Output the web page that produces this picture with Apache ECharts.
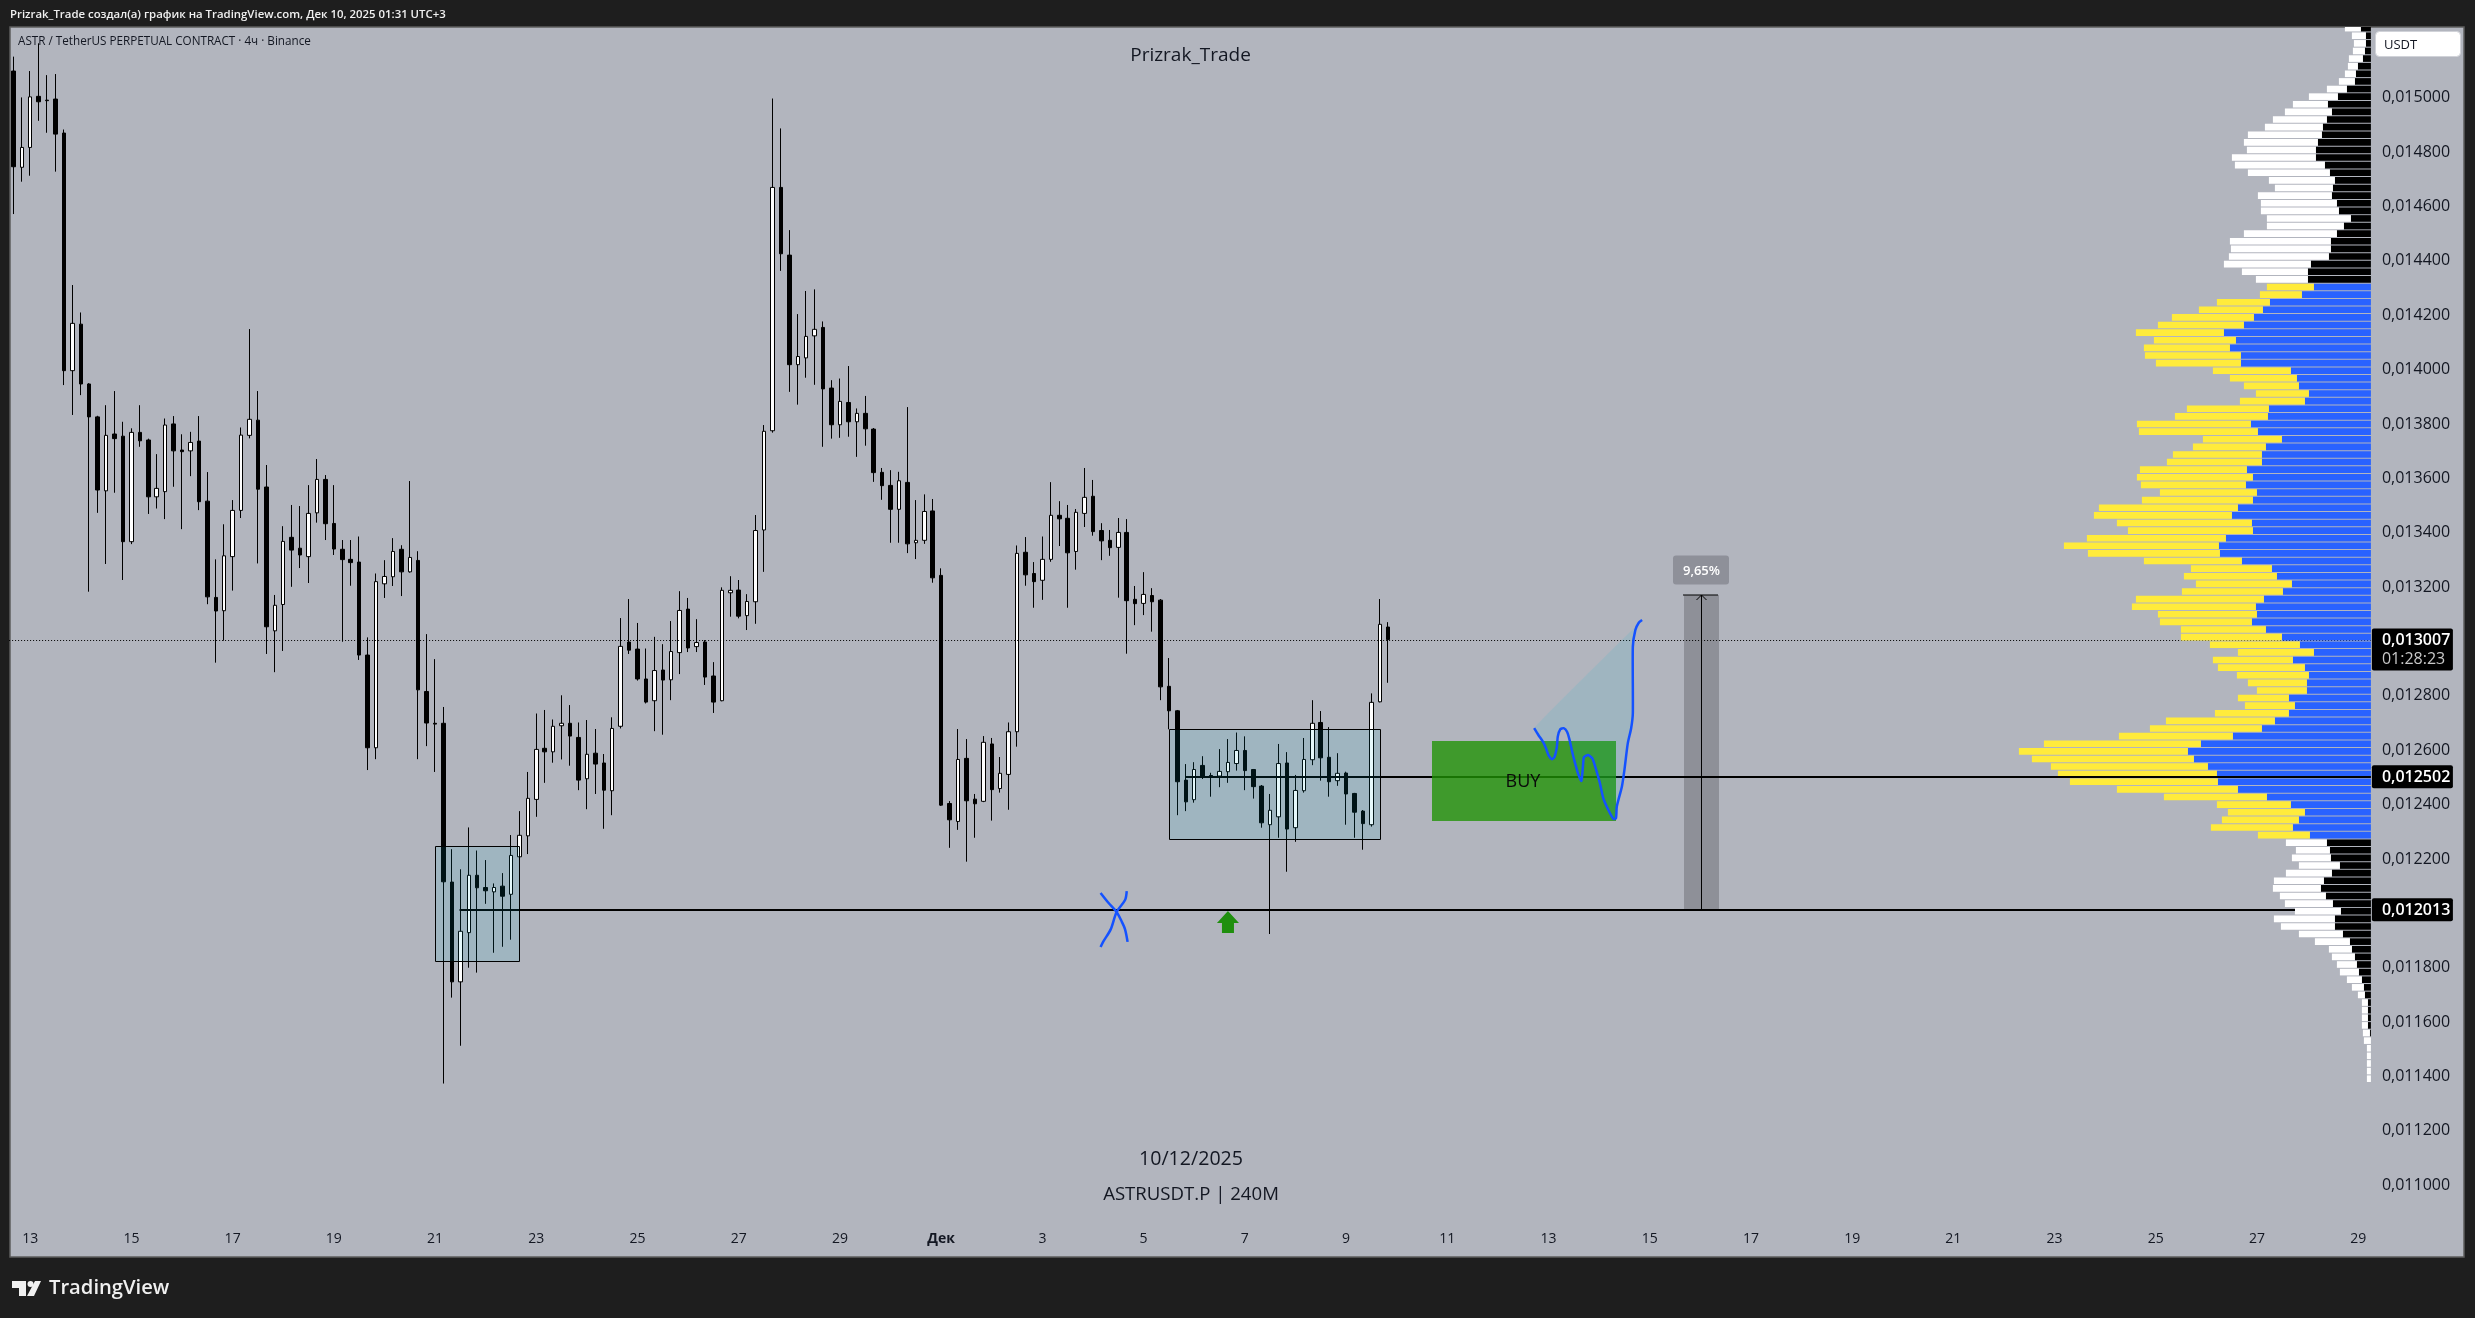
<!DOCTYPE html>
<html>
<head>
<meta charset="utf-8">
<title>ASTRUSDT.P</title>
<script src="https://cdn.jsdelivr.net/npm/echarts@6/dist/echarts.min.js"></script>
<style>
  html, body { margin: 0; padding: 0; background: #1e1e1e; }
  #main { width: 2475px; height: 1318px; }
</style>
</head>
<body>
<div id="main"></div>
<script>
// prices are in millionths of USDT, 13007 means 0,013007
var opens = [
  15098,14744,14817,15005,14991,14995,14870,13996,14167,13947,
  13826,13554,13763,13755,13367,13769,13741,13532,13551,13800,
  13704,13701,13737,13516,13162,13113,13312,13482,13758,13814,
  13568,13039,13136,13383,13343,13312,13473,13596,13434,13339,
  13302,13292,12950,12609,13212,13238,13339,13256,13298,12816,
  12699,12699,12115,11748,11929,12140,12095,12079,12100,12070,
  12208,12285,12419,12607,12594,12690,12699,12647,12495,12589,
  12553,12451,12688,12998,12972,12862,12782,12895,12859,12959,
  13119,12981,12998,12873,12782,13179,13189,13095,13146,13410,
  13775,14670,14421,14018,14043,14124,14155,13932,13797,13879,
  13808,13839,13781,13622,13574,13486,13585,13363,13372,13480,
  13243,12404,12338,12570,12420,12412,12623,12459,12511,12668,
  13328,13250,13225,13302,13464,13453,13331,13471,13534,13408,
  13372,13346,13401,13155,13140,13169,13152,12835,12745,12490,
  12418,12544,12507,12505,12521,12551,12599,12529,12468,12326,
  12355,12553,12315,12451,12565,12702,12574,12488,12516,12441,
  12376,12326,12778,13053
];
var closes = [
  14746,14817,15003,14985,14989,14866,13996,14170,13947,13826,
  13557,13758,13746,13367,13769,13738,13532,13563,13796,13701,
  13698,13732,13514,13164,13112,13315,13482,13759,13817,13560,
  13054,13133,13368,13336,13318,13471,13596,13433,13340,13301,
  13290,12950,12609,13220,13239,13331,13256,13309,12822,12700,
  12696,12116,11748,11934,12140,12094,12083,12095,12063,12213,
  12287,12423,12603,12594,12688,12699,12652,12490,12585,12549,
  12453,12680,12982,12968,12862,12777,12893,12858,12963,13114,
  12976,12996,12869,12777,13188,13188,13093,13147,13408,13773,
  14670,14426,14018,14048,14122,14148,13929,13797,13883,13808,
  13839,13782,13621,13573,13486,13591,13359,13372,13478,13234,
  12398,12344,12566,12414,12403,12629,12455,12515,12668,13324,
  13245,13220,13302,13464,13451,13326,13475,13530,13404,13370,
  13345,13401,13150,13139,13173,13146,12833,12745,12484,12410,
  12529,12502,12504,12522,12555,12599,12525,12466,12333,12379,
  12551,12310,12452,12566,12699,12572,12484,12515,12439,12372,
  12330,12776,13063,13007
];
var lows = [
  14572,14691,14713,14915,14871,14728,13943,13833,13906,13183,
  13473,13285,13547,13226,13358,13716,13469,13489,13450,13569,
  13413,13608,13483,13137,12922,13003,13187,13454,13747,13287,
  12954,12887,12965,13201,13270,13215,13437,13373,13318,12999,
  13205,12932,12527,12567,13160,13204,13167,13253,12567,12615,
  12520,11374,11690,11513,11800,11782,12035,11855,11877,11903,
  12205,12218,12355,12480,12554,12566,12543,12453,12383,12439,
  12311,12361,12680,12954,12856,12772,12670,12657,12784,12880,
  12961,12961,12840,12737,12780,13091,13085,13042,13065,13256,
  13768,14363,13918,13871,13970,13944,13716,13746,13749,13753,
  13679,13720,13587,13521,13363,13363,13325,13303,13359,13216,
  12395,12241,12307,12190,12278,12409,12341,12444,12381,12613,
  13205,13124,13153,13293,13351,13124,13264,13421,13389,13299,
  13315,13161,12955,13060,13097,13036,12784,12677,12361,12376,
  12407,12494,12429,12464,12480,12525,12453,12422,12315,11924,
  12278,12153,12263,12444,12545,12488,12429,12469,12326,12278,
  12234,12319,12776,12848
];
var highs = [
  15151,15001,15098,15200,15083,15087,14883,14311,14210,13950,
  13830,13869,13921,13808,13784,13869,13746,13689,13820,13829,
  13762,13771,13829,13623,13302,13431,13520,13787,14149,13921,
  13649,13171,13424,13502,13498,13575,13671,13612,13575,13373,
  13373,13386,13015,13250,13299,13380,13354,13590,13332,13027,
  12935,12759,12236,12162,12316,12231,12196,12110,12148,12288,
  12376,12520,12735,12748,12713,12802,12766,12702,12711,12678,
  12586,12721,13086,13156,13068,12974,13017,12990,13075,13185,
  13160,13082,13005,12924,13199,13240,13226,13174,13465,13796,
  14997,14887,14513,14204,14289,14295,14177,13961,13967,14013,
  13857,13903,13785,13638,13630,13624,13862,13520,13541,13524,
  13269,12413,12678,12641,12439,12652,12645,12575,12702,13353,
  13384,13292,13386,13586,13516,13502,13487,13638,13594,13435,
  13410,13454,13450,13204,13255,13196,13156,12939,12748,12549,
  12556,12578,12517,12604,12641,12665,12651,12531,12472,12439,
  12623,12593,12509,12645,12784,12744,12685,12589,12521,12443,
  12380,12809,13156,13071
];

// every second day is labelled, 6 bars a day, first label on bar 2
var dayLabels = ['13','15','17','19','21','23','25','27','29','Дек','3','5','7','9','11','13','15','17','19','21','23','25','27','29'];
var priceTicks = [11000,11200,11400,11600,11800,12200,12400,12600,12800,13200,13400,13600,13800,14000,14200,14400,14600,14800,15000];

// volume profile, top row first
var profileDark = [
  10,5,5,6,8,13,15,16,24,33,43,39,44,48,49,53,55,55,46,41,
  36,38,39,34,32,20,27,34,40,40,42,60,63,63,57,69,101,108,117,127,
  147,135,141,130,130,80,74,72,62,66,102,103,120,113,89,105,109,109,124,118,
  125,114,118,133,139,119,118,145,152,151,129,99,94,79,88,107,115,114,119,105,
  89,71,57,78,66,62,64,64,82,76,82,96,109,138,170,183,177,163,154,153,
  133,104,80,66,72,78,61,44,41,40,31,39,47,50,45,38,30,36,36,28,
  21,19,16,14,12,9,7,6,3,3,3,3,1,0,0,0,0,0,0
];
var profileLight = [
  16,14,12,12,14,10,11,16,20,29,35,47,54,58,74,74,69,84,90,82,
  66,58,74,76,78,84,77,93,101,100,100,87,66,52,47,42,53,64,82,86,
  88,82,86,96,85,78,67,55,53,65,82,93,114,119,79,73,89,95,107,116,
  105,97,111,139,138,135,125,139,155,132,98,81,93,96,101,128,124,99,92,85,
  101,90,76,80,87,72,59,50,51,50,74,109,112,114,157,169,162,157,159,148,
  121,103,74,77,77,82,52,41,34,39,41,46,50,48,46,48,46,61,54,44,
  35,23,23,20,19,15,12,7,6,6,6,6,7,7,4,4,4,4,4
];
var profileRowSize = 28;
var profileBottom = 11376;
var valueAreaLow = 12272;
var valueAreaHigh = 14316;

var lastPrice = 13007;
var countdown = '01:28:23';
// [first bar, last bar, price]
var levels = [[52.9, 270.5, 12013], [139, 279.5, 12502]];
var levelTags = [12502, 12013];
// [first bar, last bar, top price, bottom price]
var boxes = [[50, 60, 12246, 11823], [137, 162, 12677, 12272]];
var buyZone = [168.2, 190, 12634, 12341];
var measure = [198.1, 202.2, 13172, 12013];
var measureText = '9,65%';
var arrowMark = [144, 12009];
var brushPath = [
  [180.3,12681],[180.8,12656],[181.4,12628],[181.7,12607],[182.0,12582],[182.4,12567],
  [182.7,12574],[183.0,12613],[183.1,12650],[183.4,12677],[183.8,12681],[184.2,12668],
  [184.5,12638],[184.8,12595],[185.1,12558],[185.5,12515],[185.9,12487],[186.1,12546],
  [186.2,12574],[186.7,12582],[187.2,12570],[187.6,12533],[188.1,12478],[188.5,12423],
  [189.1,12380],[189.7,12347],[190.0,12350],[190.1,12393],[190.7,12466],[191.0,12527],
  [191.4,12625],[191.8,12681],[192.0,12736],[192.0,12981],[192.3,13042],[192.7,13069],[193.1,13079]
];
var crossStrokes = [
  [[128.9,12075],[129.8,12040],[130.8,12005],[131.4,11970],[131.8,11941],[132.1,11895]],
  [[132.0,12082],[131.8,12049],[130.8,12005],[130.1,11941],[129.2,11895],[128.9,11876]]
];

var barCount = 280;
var fontName = '"Open Sans", sans-serif';
var inkColor = '#131722';
var boxFill = 'rgba(0,188,212,0.1)';

var categories = [];
for (var i = 0; i < barCount; i++) {
  categories.push((i - 2) % 12 === 0 ? dayLabels[(i - 2) / 12] : 'bar' + i);
}
var candles = opens.map(function (o, i) { return [o, closes[i], lows[i], highs[i]]; });
var profileRows = profileDark.map(function (d, i) {
  return [profileBottom + profileRowSize * (profileDark.length - 1 - i), d, profileLight[i]];
});

function priceText(v) {
  return '0,' + String(v).padStart(6, '0');
}

// one custom series per layer, all of them sit on the hidden bar axis
function layer(z, items, render) {
  return {
    type: 'custom',
    xAxisIndex: 2,
    yAxisIndex: 0,
    z: z,
    clip: true,
    silent: true,
    data: items.map(function (d, i) { return [i]; }),
    renderItem: function (params, api) {
      return render(items[params.dataIndex], api);
    }
  };
}

function rectOf(api, x0, x1, top, bottom) {
  var a = api.coord([x0, top]);
  var b = api.coord([x1, bottom]);
  return { x: Math.round(a[0]), y: Math.round(a[1]), width: Math.round(b[0] - a[0]), height: Math.round(b[1] - a[1]) };
}

var chartDom = document.getElementById('main');
var myChart = echarts.init(chartDom);

var option = {
  animation: false,
  backgroundColor: '#1e1e1e',
  textStyle: { fontFamily: fontName },
  grid: { left: 9.1, right: 104.1, top: 27, bottom: 61 },
  xAxis: [
    {
      type: 'category',
      data: categories,
      axisLine: { show: false },
      axisTick: { show: false },
      splitLine: { show: false },
      axisLabel: {
        inside: true,
        margin: 11,
        color: inkColor,
        fontSize: 14,
        fontFamily: fontName,
        interval: function (index) { return (index - 2) % 12 === 0; },
        formatter: function (value) {
          return value === 'Дек' ? '{b|Дек}' : value;
        },
        rich: { b: { fontWeight: 'bold', fontSize: 14, color: inkColor, fontFamily: fontName } }
      }
    },
    { type: 'value', show: false, inverse: true, min: 0, max: 2361.8, splitLine: { show: false } },
    { type: 'value', show: false, min: -0.5, max: 279.5, splitLine: { show: false } }
  ],
  yAxis: {
    type: 'value',
    position: 'right',
    min: 10736,
    max: 15260,
    axisLine: { show: false },
    axisTick: { show: false },
    splitLine: { show: false },
    axisLabel: {
      customValues: priceTicks,
      margin: 11,
      padding: [2, 0, 0, 0],
      color: inkColor,
      fontSize: 16,
      fontFamily: fontName,
      formatter: priceText
    }
  },
  graphic: [
    { type: 'rect', z: -10, shape: { x: 10, y: 27, width: 2454, height: 1230 }, style: { fill: '#b2b5be', stroke: '#5d5d5d', lineWidth: 1.5 } },
    { type: 'text', x: 10, y: 15, style: { text: 'Prizrak_Trade создал(а) график на TradingView.com, Дек 10, 2025 01:31 UTC+3', fill: '#f0f0f0', font: '600 11.4px ' + fontName, verticalAlign: 'middle' } },
    { type: 'text', x: 18, y: 42, z: 20, style: { text: 'ASTR / TetherUS PERPETUAL CONTRACT · 4ч · Binance', fill: inkColor, font: '11.7px ' + fontName, verticalAlign: 'middle' } },
    { type: 'text', x: 1190.5, y: 56, z: 20, style: { text: 'Prizrak_Trade', fill: inkColor, font: '19px ' + fontName, align: 'center', verticalAlign: 'middle' } },
    { type: 'text', x: 1191, y: 1159, z: 20, style: { text: '10/12/2025', fill: inkColor, font: '19.6px ' + fontName, align: 'center', verticalAlign: 'middle' } },
    { type: 'text', x: 1191, y: 1195, z: 20, style: { text: 'ASTRUSDT.P | 240M', fill: inkColor, font: '18.6px ' + fontName, align: 'center', verticalAlign: 'middle' } },
    { type: 'rect', z: 20, shape: { x: 2375.5, y: 31.5, width: 85, height: 25, r: 4 }, style: { fill: '#ffffff', stroke: '#d0d2d8', lineWidth: 1 } },
    { type: 'text', x: 2384, y: 45, z: 21, style: { text: 'USDT', fill: inkColor, font: '13px ' + fontName, verticalAlign: 'middle' } },
    // TradingView logo
    { type: 'polygon', shape: { points: [[12,1281],[26,1281],[26,1296],[19,1296],[19,1288],[12,1288]] }, style: { fill: '#f0f0f0' } },
    { type: 'circle', shape: { cx: 30.5, cy: 1284, r: 3 }, style: { fill: '#f0f0f0' } },
    { type: 'polygon', shape: { points: [[35,1281],[41,1281],[34,1296],[27,1296]] }, style: { fill: '#f0f0f0' } },
    { type: 'text', x: 49, y: 1288, style: { text: 'TradingView', fill: '#f0f0f0', font: '600 20.2px ' + fontName, verticalAlign: 'middle' } }
  ],
  series: [
    {
      type: 'candlestick',
      xAxisIndex: 0,
      yAxisIndex: 0,
      z: 2,
      barWidth: 4,
      silent: true,
      data: candles,
      itemStyle: {
        color: '#ffffff',
        color0: '#000000',
        borderColor: '#000000',
        borderColor0: '#000000',
        borderColorDoji: '#000000',
        borderWidth: 1
      }
    },
    // last price dotted line, under the profile
    layer(3, [lastPrice], function (p, api) {
      var a = api.coord([-0.5, p]);
      var b = api.coord([279.5, p]);
      return {
        type: 'line',
        shape: { x1: a[0], y1: Math.round(a[1]) + 0.5, x2: b[0], y2: Math.round(a[1]) + 0.5 },
        style: { stroke: '#000000', lineWidth: 1, lineDash: [1, 2] }
      };
    }),
    // volume profile
    {
      type: 'custom',
      xAxisIndex: 1,
      yAxisIndex: 0,
      z: 4,
      clip: true,
      silent: true,
      data: profileRows,
      encode: { x: 1, y: 0 },
      renderItem: function (params, api) {
        var low = api.value(0);
        var dark = api.value(1);
        var light = api.value(2);
        var inside = low >= valueAreaLow && low < valueAreaHigh;
        var base = api.coord([0, low]);
        var d = api.coord([dark, low + profileRowSize]);
        var l = api.coord([dark + light, low + profileRowSize]);
        var h = base[1] - d[1] - 1;
        return {
          type: 'group',
          children: [
            { type: 'rect', shape: { x: d[0], y: d[1], width: base[0] - d[0], height: h }, style: { fill: inside ? '#2962ff' : '#000000' } },
            { type: 'rect', shape: { x: l[0], y: l[1], width: d[0] - l[0], height: h }, style: { fill: inside ? '#ffeb3b' : '#ffffff' } }
          ]
        };
      }
    },
    // horizontal levels
    layer(5, levels, function (lv, api) {
      var a = api.coord([lv[0], lv[2]]);
      var b = api.coord([lv[1], lv[2]]);
      var y = Math.round(a[1]);
      return {
        type: 'line',
        shape: { x1: a[0], y1: y, x2: b[0], y2: y },
        style: { stroke: '#000000', lineWidth: 2 }
      };
    }),
    // teal boxes
    layer(6, boxes, function (b, api) {
      var r = rectOf(api, b[0], b[1], b[2], b[3]);
      r.x += 0.5;
      r.y += 0.5;
      return {
        type: 'rect',
        shape: r,
        style: { fill: boxFill, stroke: '#000000', lineWidth: 1 }
      };
    }),
    // BUY zone
    layer(6, [buyZone], function (b, api) {
      var r = rectOf(api, b[0], b[1], b[2], b[3]);
      return {
        type: 'group',
        children: [
          { type: 'rect', shape: r, style: { fill: 'rgba(32,147,5,0.79)' } },
          { type: 'text', x: r.x + r.width / 2 - 1, y: r.y + r.height / 2 + 1, style: { text: 'BUY', fill: '#0a0a0a', font: '18px ' + fontName, align: 'center', verticalAlign: 'middle' } }
        ]
      };
    }),
    // drawn path with its closing fill
    layer(7, [brushPath], function (path, api) {
      var pts = path.map(function (p) { return api.coord(p); });
      return {
        type: 'group',
        children: [
          { type: 'polygon', shape: { points: pts, smooth: 0.2 }, style: { fill: boxFill } },
          { type: 'polyline', shape: { points: pts, smooth: 0.2 }, style: { fill: 'none', stroke: '#1452ff', lineWidth: 2.5 } }
        ]
      };
    }),
    // blue cross
    layer(7, crossStrokes, function (path, api) {
      return {
        type: 'polyline',
        shape: { points: path.map(function (p) { return api.coord(p); }), smooth: 0.3 },
        style: { fill: 'none', stroke: '#1452ff', lineWidth: 2.5 }
      };
    }),
    // green arrow
    layer(7, [arrowMark], function (m, api) {
      var c = api.coord(m);
      var x = c[0], y = c[1];
      return {
        type: 'polygon',
        shape: { points: [[x, y], [x + 11, y + 12], [x + 6, y + 12], [x + 6, y + 22], [x - 6, y + 22], [x - 6, y + 12], [x - 11, y + 12]] },
        style: { fill: '#1f8f0e' }
      };
    }),
    // price range measure
    layer(7, [measure], function (b, api) {
      var r = rectOf(api, b[0], b[1], b[2], b[3]);
      var mid = r.x + r.width / 2;
      return {
        type: 'group',
        children: [
          { type: 'rect', shape: r, style: { fill: 'rgba(0,0,0,0.2)' } },
          { type: 'line', shape: { x1: mid, y1: r.y, x2: mid, y2: r.y + r.height }, style: { stroke: '#000000', lineWidth: 1 } },
          { type: 'line', shape: { x1: r.x - 1, y1: r.y, x2: r.x + r.width - 1, y2: r.y }, style: { stroke: '#000000', lineWidth: 1 } },
          { type: 'polyline', shape: { points: [[mid - 5, r.y + 5], [mid, r.y], [mid + 5, r.y + 5]] }, style: { fill: 'none', stroke: '#000000', lineWidth: 1 } },
          { type: 'rect', shape: { x: mid - 28.5, y: r.y - 39.5, width: 56, height: 29, r: 3 }, style: { fill: '#8e9099' } },
          { type: 'text', x: mid, y: r.y - 24, style: { text: measureText, fill: '#ffffff', font: '600 13px ' + fontName, align: 'center', verticalAlign: 'middle' } }
        ]
      };
    }),
    // price tags on the axis
    {
      type: 'custom',
      xAxisIndex: 1,
      yAxisIndex: 0,
      z: 10,
      silent: true,
      data: levelTags.map(function (p) { return [0, p]; }),
      renderItem: function (params, api) {
        var c = api.coord([0, api.value(1)]);
        return {
          type: 'group',
          children: [
            { type: 'rect', shape: { x: c[0] + 1, y: c[1] - 11.5, width: 81, height: 23, r: 2 }, style: { fill: '#000000' } },
            { type: 'text', x: c[0] + 11, y: c[1] + 1, style: { text: priceText(api.value(1)), fill: '#ffffff', font: '600 16px ' + fontName, verticalAlign: 'middle' } }
          ]
        };
      }
    },
    {
      type: 'custom',
      xAxisIndex: 1,
      yAxisIndex: 0,
      z: 10,
      silent: true,
      data: [[0, lastPrice]],
      renderItem: function (params, api) {
        var c = api.coord([0, api.value(1)]);
        return {
          type: 'group',
          children: [
            { type: 'rect', shape: { x: c[0] + 1, y: c[1] - 11, width: 81, height: 42, r: 2 }, style: { fill: '#000000' } },
            { type: 'text', x: c[0] + 11, y: c[1] + 1, style: { text: priceText(api.value(1)), fill: '#ffffff', font: '600 16px ' + fontName, verticalAlign: 'middle' } },
            { type: 'text', x: c[0] + 11, y: c[1] + 20, style: { text: countdown, fill: '#c8c8c8', font: '16px ' + fontName, verticalAlign: 'middle' } }
          ]
        };
      }
    }
  ]
};

option && myChart.setOption(option);
</script>
</body>
</html>
